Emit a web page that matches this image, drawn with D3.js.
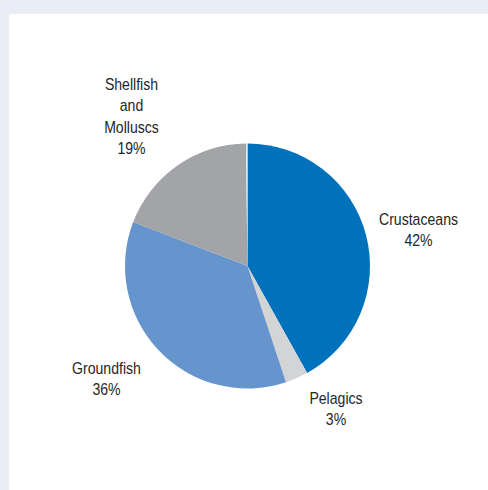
<!DOCTYPE html>
<html>
<head>
<meta charset="utf-8">
<script src="https://cdn.jsdelivr.net/npm/d3@7"></script>
<style>
  html, body { margin: 0; padding: 0; background: #e9edf6; }
  svg { display: block; }
  text { font-family: "Liberation Sans", Arial, sans-serif; font-size: 16px; fill: #262626; }
</style>
</head>
<body>
<script>
// Share of catch value by species group (%)
const categories = ["Crustaceans", "Pelagics", "Groundfish", "Shellfish and Molluscs", "Other"];
const shares = [42, 3, 36, 19, 0.2];
const labelLines = [
  ["Crustaceans", "42%"],
  ["Pelagics", "3%"],
  ["Groundfish", "36%"],
  ["Shellfish", "and", "Molluscs", "19%"],
  []
];

// Presentation
const colors = ["#0071bb", "#d3d4d6", "#6695cd", "#a2a4a8", "#dde3ec"];
const labelAnchors = [
  { x: 418.5, y: 225 },
  { x: 336, y: 404 },
  { x: 106.5, y: 374 },
  { x: 131.5, y: 90 },
  null
];

const W = 488, H = 490;
const cx = 247.5, cy = 266, R = 122.5;
const lineHeight = 21.3;
const narrow = 0.88; // condensed label face

const svg = d3.select("body").append("svg").attr("width", W).attr("height", H);

// white panel
svg.append("rect").attr("x", 9).attr("y", 14).attr("width", W - 9).attr("height", H - 14).attr("fill", "#ffffff");

const data = categories.map((c, i) => ({ category: c, value: shares[i], i }));

const pie = d3.pie().value(d => d.value).sort(null).startAngle(0).endAngle(2 * Math.PI);
const arc = d3.arc().innerRadius(0).outerRadius(R);

const g = svg.append("g").attr("transform", `translate(${cx},${cy})`);
g.selectAll("path")
  .data(pie(data))
  .join("path")
  .attr("d", arc)
  .attr("fill", d => colors[d.data.i]);

// labels
const labels = svg.append("g");
data.forEach((d, i) => {
  const a = labelAnchors[i];
  if (!a) return;
  const t = labels.append("text")
    .attr("text-anchor", "middle")
    .attr("transform", `translate(${a.x},${a.y}) scale(${narrow},1)`);
  labelLines[i].forEach((line, k) => {
    t.append("tspan").attr("x", 0).attr("y", k * lineHeight).text(line);
  });
});
</script>
</body>
</html>
